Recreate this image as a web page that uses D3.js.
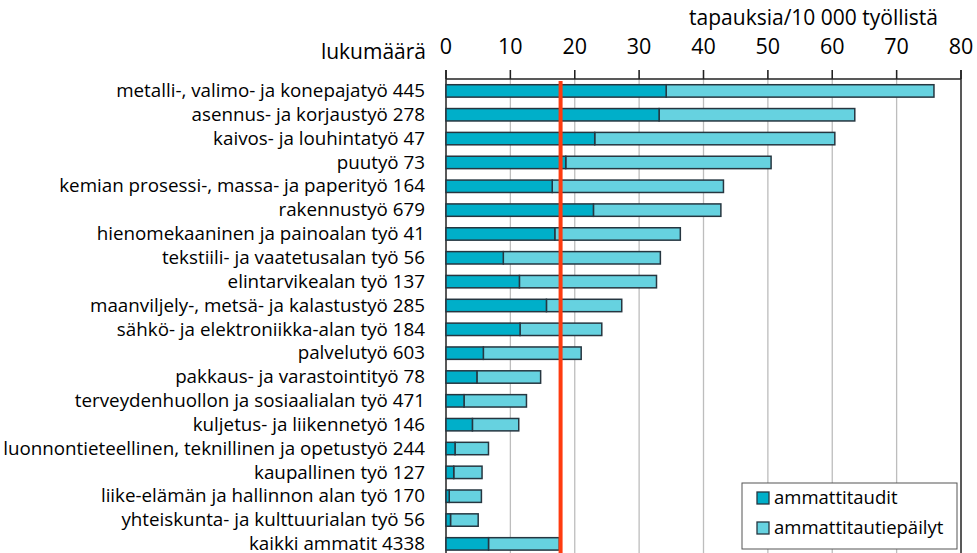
<!doctype html>
<html>
<head>
<script src="https://d3js.org/d3.v7.min.js"></script>
<style>
  body, html { margin: 0; padding: 0; overflow: hidden; background: #fff; }
  text { font-family: "Open Sans", sans-serif; fill: #000; }
</style>
</head>
<body>
<script>
// categories with case counts (lukumäärä)
const categories = [
  "metalli-, valimo- ja konepajatyö 445",
  "asennus- ja korjaustyö 278",
  "kaivos- ja louhintatyö 47",
  "puutyö 73",
  "kemian prosessi-, massa- ja paperityö 164",
  "rakennustyö 679",
  "hienomekaaninen ja painoalan työ 41",
  "tekstiili- ja vaatetusalan työ 56",
  "elintarvikealan työ 137",
  "maanviljely-, metsä- ja kalastustyö 285",
  "sähkö- ja elektroniikka-alan työ 184",
  "palvelutyö 603",
  "pakkaus- ja varastointityö 78",
  "terveydenhuollon ja sosiaalialan työ 471",
  "kuljetus- ja liikennetyö 146",
  "luonnontieteellinen, teknillinen ja opetustyö 244",
  "kaupallinen työ 127",
  "liike-elämän ja hallinnon alan työ 170",
  "yhteiskunta- ja kulttuurialan työ 56",
  "kaikki ammatit 4338"
];
// cases per 10 000 employed
const ammattitaudit = [34.2, 33.1, 23.1, 18.6, 16.5, 22.9, 16.9, 8.9, 11.4, 15.6, 11.5, 5.8, 4.8, 2.8, 4.1, 1.4, 1.2, 0.5, 0.7, 6.6];
const epailyt = [41.6, 30.4, 37.3, 31.9, 26.6, 19.8, 19.5, 24.4, 21.3, 11.7, 12.7, 15.2, 9.9, 9.7, 7.2, 5.2, 4.4, 5.0, 4.3, 11.0];
const averageAll = 17.8;
const xTicks = [0, 10, 20, 30, 40, 50, 60, 70, 80];
const seriesNames = ["ammattitaudit", "ammattitautiepäilyt"];
const colors = ["#00afc9", "#66d2e0"];

const width = 977, height = 553;
const svg = d3.select("body").append("svg")
  .attr("width", width).attr("height", height);

const x = d3.scaleLinear().domain([0, 80]).range([446, 961]);
const y = d3.scaleBand().domain(categories).range([79, 79 + 23.84 * categories.length]).paddingInner(0.48).paddingOuter(0.24);

// grid
svg.append("g").selectAll("line").data(xTicks.slice(1, -1)).join("line")
  .attr("x1", d => x(d)).attr("x2", d => x(d))
  .attr("y1", 70).attr("y2", height)
  .attr("stroke", "#bdbdbd").attr("stroke-width", 1.3);

// frame
const frame = svg.append("g").attr("stroke", "#222").attr("stroke-width", 1.5);
frame.append("line").attr("x1", x(0)).attr("x2", x(80)).attr("y1", 79).attr("y2", 79);
frame.append("line").attr("x1", x(0)).attr("x2", x(0)).attr("y1", 70).attr("y2", height);
frame.append("line").attr("x1", x(80)).attr("x2", x(80)).attr("y1", 70).attr("y2", height);
frame.selectAll("line.tick").data(xTicks).join("line").attr("class", "tick")
  .attr("x1", d => x(d)).attr("x2", d => x(d)).attr("y1", 70).attr("y2", 79);

// tick labels
svg.append("g").selectAll("text").data(xTicks).join("text")
  .attr("x", d => x(d)).attr("y", 54)
  .attr("text-anchor", "middle").style("font-size", "21.5px")
  .text(d => d);

svg.append("text").attr("x", 938).attr("y", 25).attr("text-anchor", "end")
  .style("font-size", "21px").text("tapauksia/10 000 työllistä");
svg.append("text").attr("x", 426).attr("y", 59).attr("text-anchor", "end")
  .style("font-size", "21px").text("lukumäärä");

// bars
const rows = categories.map((c, i) => ({ c, a: ammattitaudit[i], b: epailyt[i] }));
const bars = svg.append("g").attr("stroke", "#263640").attr("stroke-width", 1.5);
bars.selectAll("rect.b").data(rows).join("rect").attr("class", "b")
  .attr("x", d => x(d.a)).attr("y", d => y(d.c))
  .attr("width", d => x(d.a + d.b) - x(d.a)).attr("height", y.bandwidth())
  .attr("fill", colors[1]);
bars.selectAll("rect.a").data(rows).join("rect").attr("class", "a")
  .attr("x", x(0)).attr("y", d => y(d.c))
  .attr("width", d => x(d.a) - x(0)).attr("height", y.bandwidth())
  .attr("fill", colors[0]);

// category labels
svg.append("g").selectAll("text").data(categories).join("text")
  .attr("x", 425).attr("y", d => y(d) + y.bandwidth() / 2)
  .attr("dy", "0.33em").attr("text-anchor", "end")
  .style("font-size", "18.8px").text(d => d);

// average line
svg.append("line")
  .attr("x1", x(averageAll)).attr("x2", x(averageAll))
  .attr("y1", 81).attr("y2", height)
  .attr("stroke", "#ff3b0f").attr("stroke-width", 4);

// legend
const legend = svg.append("g").attr("transform", "translate(742,483)");
legend.append("rect").attr("width", 215).attr("height", 66)
  .attr("fill", "#fff").attr("stroke", "#555").attr("stroke-width", 1);
seriesNames.forEach((s, i) => {
  legend.append("rect").attr("x", 15).attr("y", 9 + i * 30).attr("width", 12).attr("height", 12)
    .attr("fill", colors[i]).attr("stroke", "#263640").attr("stroke-width", 1.3);
  legend.append("text").attr("x", 32).attr("y", 15 + i * 30).attr("dy", "0.35em")
    .style("font-size", "18.5px").text(s);
});
</script>
</body>
</html>
